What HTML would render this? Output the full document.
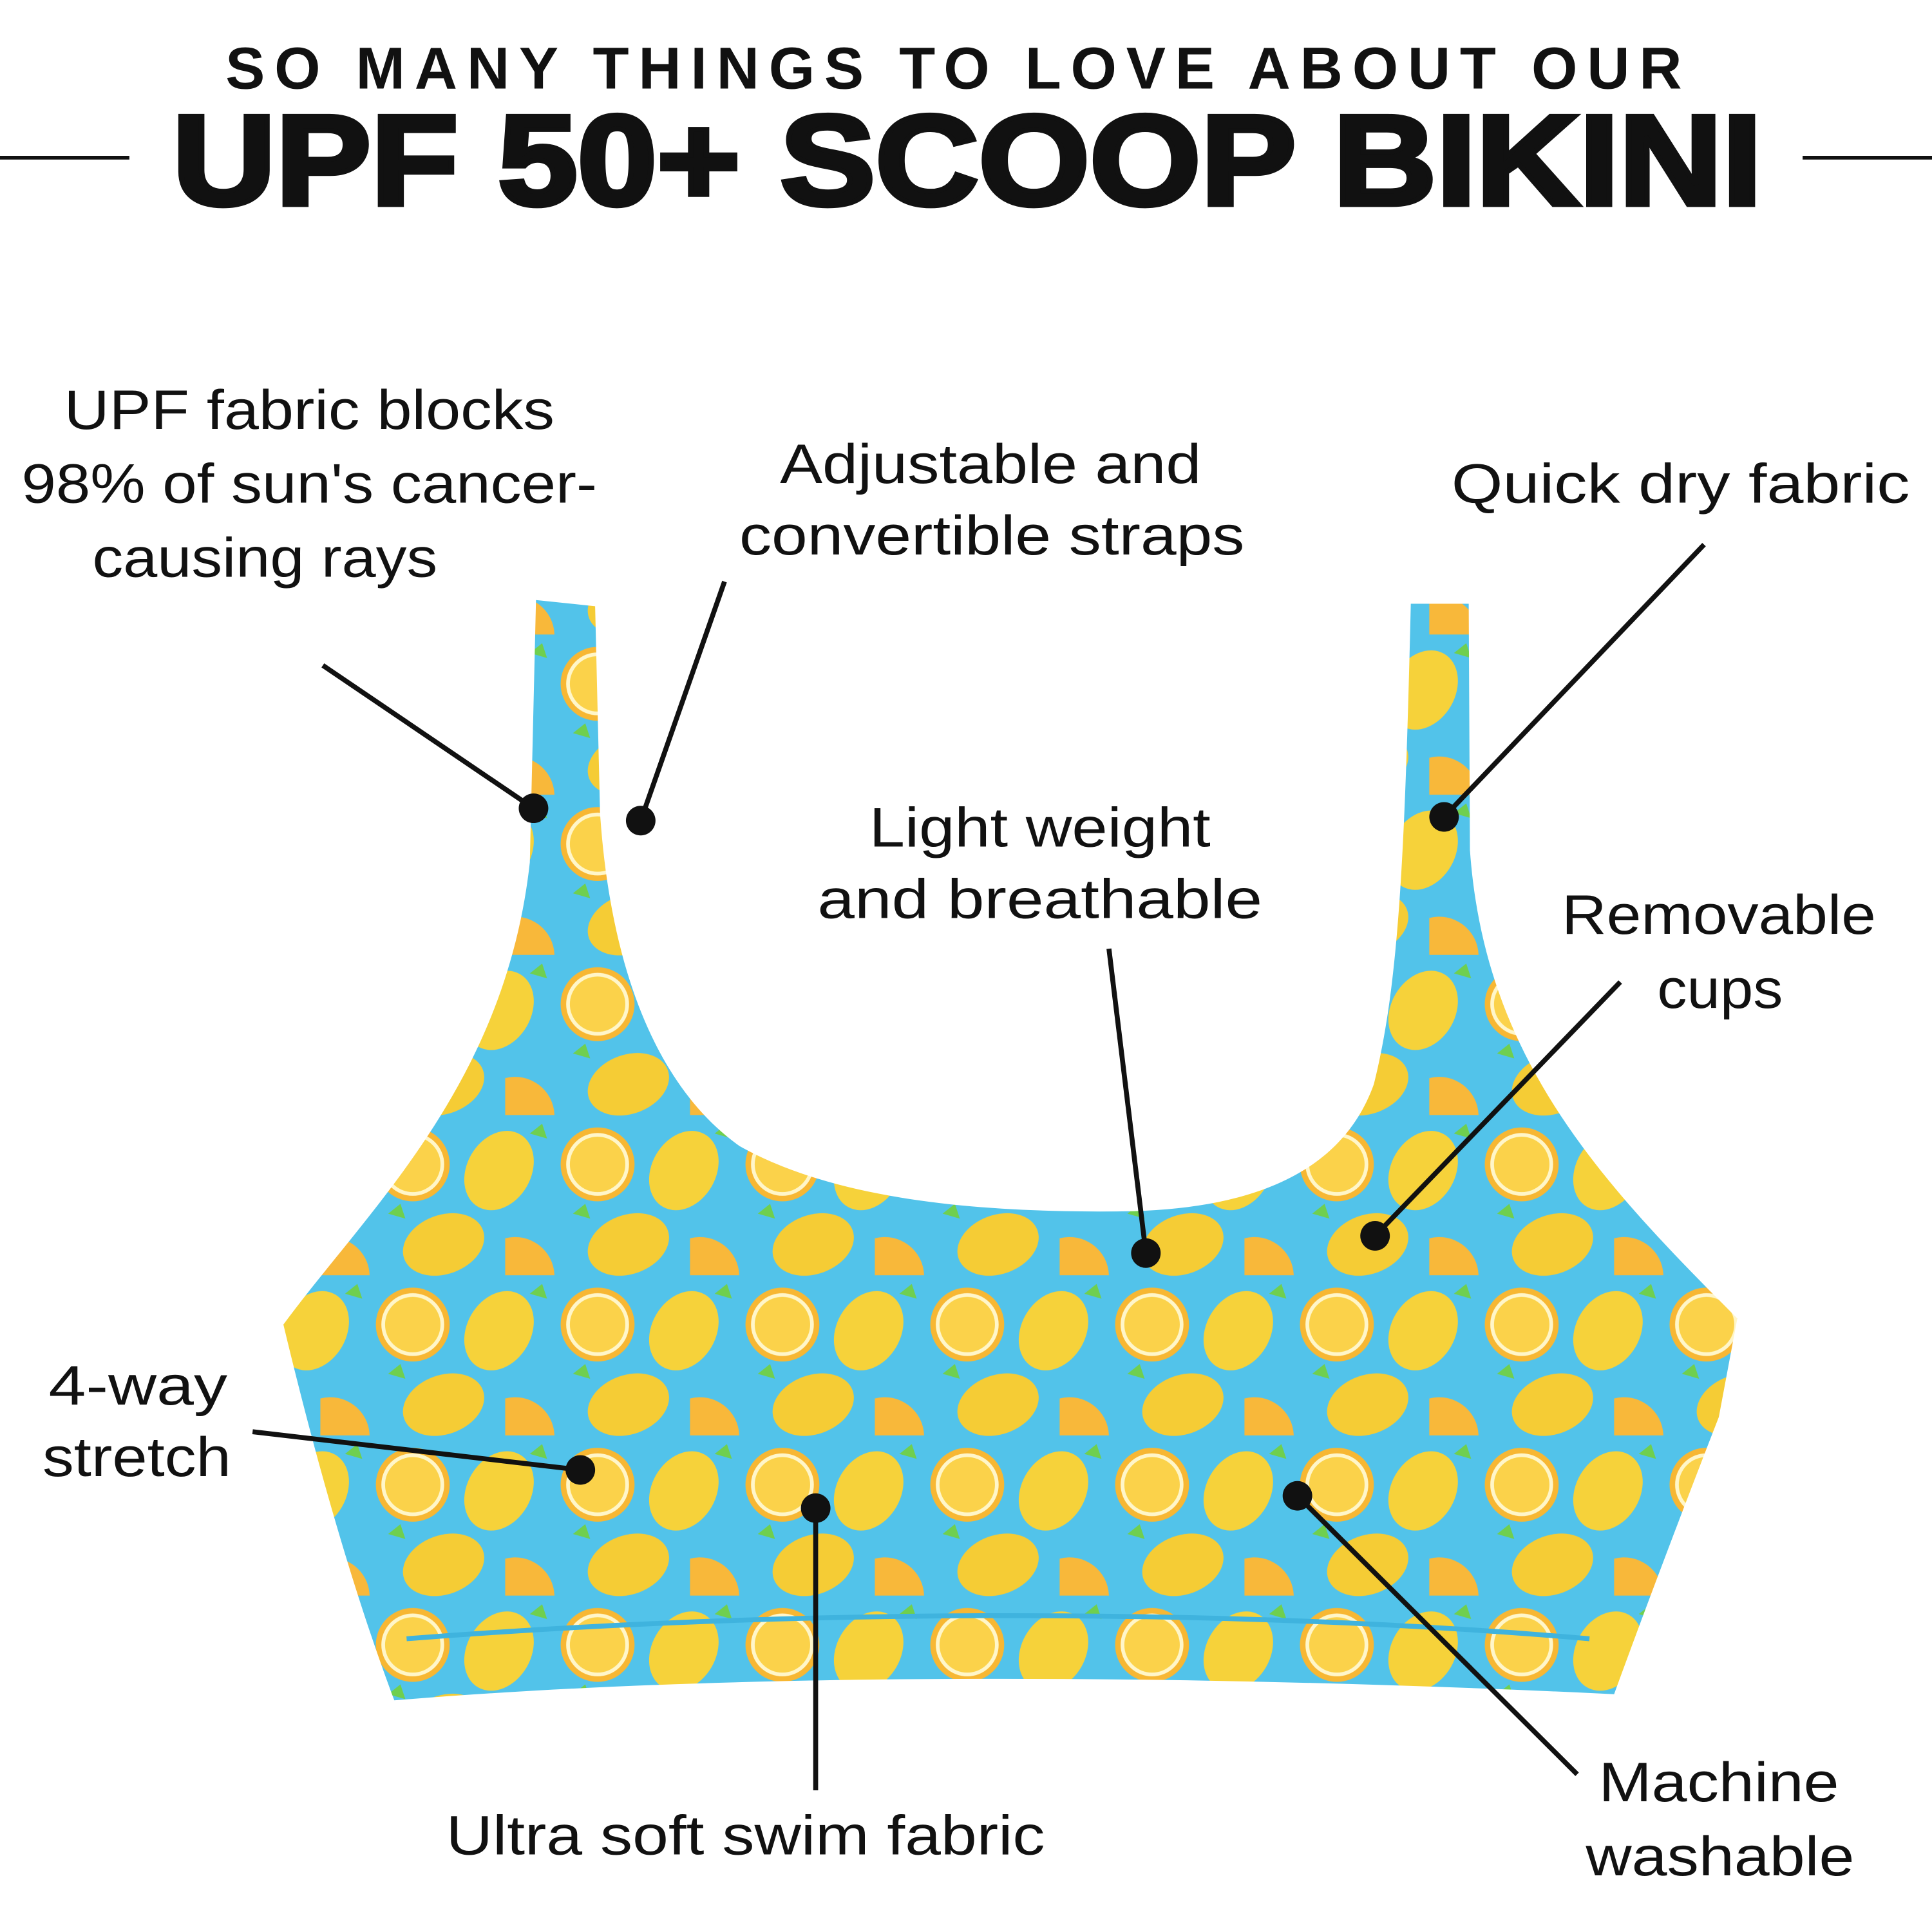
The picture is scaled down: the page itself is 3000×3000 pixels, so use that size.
<!DOCTYPE html>
<html><head><meta charset="utf-8"><style>
html,body{margin:0;padding:0;background:#fff;width:3000px;height:3000px;overflow:hidden}
svg{display:block}
.t{font-family:"Liberation Sans",sans-serif;fill:#111;text-anchor:middle}
.l{font-family:"Liberation Sans",sans-serif;fill:#111;text-anchor:middle;font-size:45px}
</style></head><body>
<svg width="3000" height="3000" viewBox="0 0 1568 1568" xmlns="http://www.w3.org/2000/svg">
<defs>
<pattern id="p" width="150" height="130" patternUnits="userSpaceOnUse">
<rect width="150" height="130" fill="#52c3ea"/>
<circle cx="35" cy="35" r="30" fill="#f7b733"/>
<circle cx="35" cy="35" r="24" fill="#fbd24a" stroke="#fff6c9" stroke-width="3"/>
<ellipse cx="105" cy="40" rx="26" ry="34" fill="#f6d23a" transform="rotate(30 105 40)"/>
<ellipse cx="60" cy="100" rx="34" ry="24" fill="#f5cc35" transform="rotate(-20 60 100)"/>
<path d="M110 95 a32 32 0 0 1 40 30 l-40 0z" fill="#f8b83a"/>
<path d="M15 75 l10 -8 4 12z" fill="#6fcf4f"/>
<path d="M130 10 l10 -8 4 12z" fill="#6fcf4f"/>
</pattern>
</defs>
<text class="t" x="774" y="72" font-size="48" font-weight="bold" textLength="1182" lengthAdjust="spacing">SO MANY THINGS TO LOVE ABOUT OUR</text>
<text class="t" x="785" y="166" font-size="104" font-weight="bold" stroke="#111" stroke-width="4" textLength="1290" lengthAdjust="spacingAndGlyphs">UPF 50+ SCOOP BIKINI</text>
<line x1="0" y1="128" x2="105" y2="128" stroke="#111" stroke-width="3"/>
<line x1="1463" y1="128" x2="1568" y2="128" stroke="#111" stroke-width="3"/>

<path d="M435 487 L483 492 L487 660 C495 780 530 880 600 930 C680 975 800 985 920 983 C1020 980 1090 950 1115 880 C1135 800 1140 700 1145 490 L1192 490 L1193 690 C1205 860 1300 960 1410 1070 L1395 1150 C1360 1240 1330 1320 1310 1375 C1000 1360 620 1355 320 1380 C290 1300 260 1200 230 1075 C300 980 410 880 430 700 Z" fill="url(#p)"/>
<path d="M330 1330 C650 1305 1000 1305 1290 1330" stroke="#3fb3de" stroke-width="4" fill="none"/>

<g>
<text class="l" x="251" y="348" textLength="398" lengthAdjust="spacingAndGlyphs">UPF fabric blocks</text>
<text class="l" x="251" y="408" textLength="467" lengthAdjust="spacingAndGlyphs">98% of sun's cancer-</text>
<text class="l" x="215" y="468" textLength="280" lengthAdjust="spacingAndGlyphs">causing rays</text>
<text class="l" x="804" y="392" textLength="342" lengthAdjust="spacingAndGlyphs">Adjustable and</text>
<text class="l" x="805" y="450" textLength="410" lengthAdjust="spacingAndGlyphs">convertible straps</text>
<text class="l" x="1364" y="408" textLength="372" lengthAdjust="spacingAndGlyphs">Quick dry fabric</text>
<text class="l" x="844" y="687" textLength="277" lengthAdjust="spacingAndGlyphs">Light weight</text>
<text class="l" x="844" y="745" textLength="361" lengthAdjust="spacingAndGlyphs">and breathable</text>
<text class="l" x="1395" y="758" textLength="255" lengthAdjust="spacingAndGlyphs">Removable</text>
<text class="l" x="1396" y="818" textLength="102" lengthAdjust="spacingAndGlyphs">cups</text>
<text class="l" x="112" y="1140" textLength="145" lengthAdjust="spacingAndGlyphs">4-way</text>
<text class="l" x="111" y="1198" textLength="153" lengthAdjust="spacingAndGlyphs">stretch</text>
<text class="l" x="605" y="1505" textLength="486" lengthAdjust="spacingAndGlyphs">Ultra soft swim fabric</text>
<text class="l" x="1395" y="1462" textLength="195" lengthAdjust="spacingAndGlyphs">Machine</text>
<text class="l" x="1396" y="1522" textLength="218" lengthAdjust="spacingAndGlyphs">washable</text>
</g>
<g stroke="#111" stroke-width="4">
<line x1="262" y1="540" x2="433" y2="656"/>
<line x1="588" y1="472" x2="520" y2="666"/>
<line x1="1383" y1="442" x2="1172" y2="663"/>
<line x1="900" y1="770" x2="930" y2="1017"/>
<line x1="1315" y1="797" x2="1116" y2="1003"/>
<line x1="205" y1="1162" x2="471" y2="1193"/>
<line x1="662" y1="1453" x2="662" y2="1224"/>
<line x1="1280" y1="1440" x2="1053" y2="1214"/>
</g>
<g fill="#111">
<circle cx="433" cy="656" r="12"/><circle cx="520" cy="666" r="12"/>
<circle cx="1172" cy="663" r="12"/><circle cx="930" cy="1017" r="12"/>
<circle cx="1116" cy="1003" r="12"/><circle cx="471" cy="1193" r="12"/>
<circle cx="662" cy="1224" r="12"/><circle cx="1053" cy="1214" r="12"/>
</g>
</svg>
</body></html>
